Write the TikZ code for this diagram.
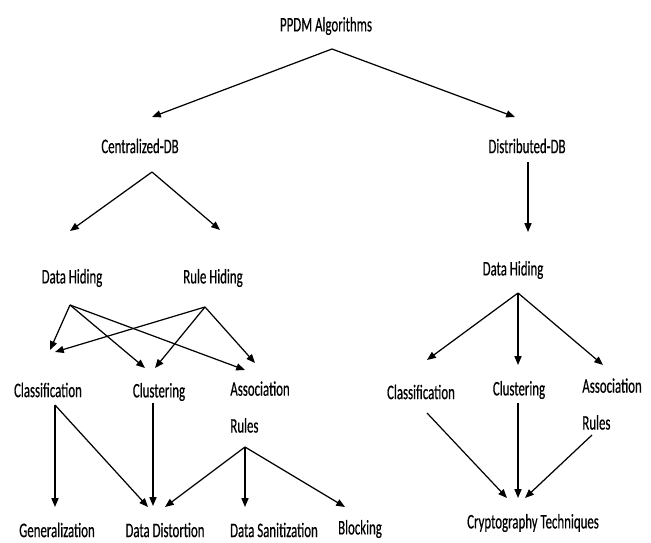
\documentclass[tikz,border=0pt]{standalone}
\usepackage{fontspec}
\setmainfont{Carlito}[FakeStretch=0.62,FakeBold=0.4]
\usetikzlibrary{arrows.meta}
\begin{document}
\begin{tikzpicture}[x=0.02cm,y=-0.02cm,
    lbl/.style={inner sep=0pt,font=\fontsize{11.8}{13}\selectfont},
    every edge/.style={draw=black,line width=0.7pt,-{Triangle[length=5pt,width=4pt]}}]
  \useasboundingbox (0,0) rectangle (651,543);
  \begin{scope}[every node/.style={lbl}]
    \node (ppdm) at (326,26) {PPDM Algorithms};
    \node (cdb) at (140,146) {Centralized-DB};
    \node (ddb) at (527,146) {Distributed-DB};
    \node (dhl) at (72,278) {Data Hiding};
    \node (rh) at (213,278) {Rule Hiding};
    \node (dhr) at (513,270) {Data Hiding};
    \node (clsl) at (48,390) {Classification};
    \node (clul) at (159,392) {Clustering};
    \node[align=left,anchor=north west] (arl) at (230,381) {Association\\[8pt]Rules};
    \node (clsr) at (421,392) {Classification};
    \node (clur) at (519,390) {Clustering};
    \node[align=left,anchor=north west] (arr) at (582,378) {Association\\[8pt]Rules};
    \node (gen) at (57,530) {Generalization};
    \node (dd) at (165,530) {Data Distortion};
    \node (ds) at (274,530) {Data Sanitization};
    \node (blk) at (360,529) {Blocking};
    \node (ct) at (533,523) {Cryptography Techniques};
  \end{scope}
  % where the arrows leave and meet the labels
  \coordinate (ppdm-o) at (332,49);
  \coordinate (cdb-i) at (152,117);
  \coordinate (ddb-i) at (515,117);
  \coordinate (cdb-o) at (152,172);
  \coordinate (ddb-o) at (528,162);
  \coordinate (dhl-i) at (70,231);
  \coordinate (rh-i) at (220,230);
  \coordinate (dhr-i) at (528,232);
  \coordinate (dhl-o) at (70,305);
  \coordinate (rh-o) at (205,307);
  \coordinate (dhr-o) at (518,293);
  \coordinate (clsl-o) at (55,405);
  \coordinate (clul-o) at (153,403);
  \coordinate (arl-o) at (245,447);
  \coordinate (clsr-o) at (427,413);
  \coordinate (clur-o) at (518,403);
  \coordinate (arr-o) at (592,435);
  \path (ppdm-o) edge (cdb-i)
        (ppdm-o) edge (ddb-i);
  \path (cdb-o) edge (dhl-i)
        (cdb-o) edge (rh-i);
  \path (ddb-o) edge (dhr-i);
  \path (dhl-o) edge (50,350)
        (dhl-o) edge (145,368)
        (dhl-o) edge (245,370);
  \path (rh-o) edge (55,352)
        (rh-o) edge (155,368)
        (rh-o) edge (255,363);
  \path (clsl-o) edge (55,507)
        (clsl-o) edge (148,507);
  \path (clul-o) edge (153,506);
  \path (arl-o) edge (165,507)
        (arl-o) edge (245,507)
        (arl-o) edge (345,507);
  \path (dhr-o) edge (427,360)
        (dhr-o) edge (518,365)
        (dhr-o) edge (603,365);
  \path (clsr-o) edge (507,498)
        (clur-o) edge (518,498)
        (arr-o) edge (525,498);
\end{tikzpicture}
\end{document}
